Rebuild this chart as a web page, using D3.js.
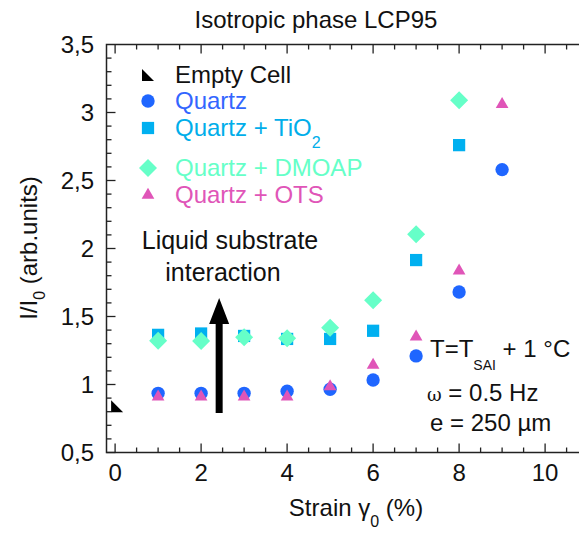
<!DOCTYPE html>
<html><head><meta charset="utf-8">
<script src="https://cdn.jsdelivr.net/npm/d3@7"></script>
<style>body{margin:0;background:#fff}svg text{font-family:"Liberation Sans",Arial,sans-serif}</style>
</head><body><svg id="c" width="579" height="534"></svg>
<script>
const strain = [1,2,3,4,5,6,7,8,9];
const emptyCell = [{x:0,y:0.84}];
const quartz = [0.935,0.935,0.935,0.95,0.965,1.033,1.21,1.68,2.58];
const quartzTiO2 = [1.365,1.375,1.357,1.335,1.335,1.395,1.915,2.76,null];
const quartzDMOAP = [1.322,1.32,1.347,1.34,1.418,1.62,2.104,3.09,null];
const quartzOTS = [0.91,0.91,0.91,0.91,0.985,1.143,1.351,1.835,3.06];
const xTicks = [0,2,4,6,8,10];
const yTicks = [0.5,1,1.5,2,2.5,3,3.5];
const yTickLabels = ["0,5","1","1,5","2","2,5","3","3,5"];

const svg = d3.select("#c");
const x = d3.scaleLinear().domain([-0.2,10.8]).range([106.5,579.5]);
const y = d3.scaleLinear().domain([0.5,3.5]).range([452.5,44.5]);
const C = {q:"#1f66ff", t:"#00b0f0", d:"#66ffc8", o:"#e055b8"};
const TC = {q:"#3366ff", t:"#00aeea", d:"#66ffc8", o:"#e055b8"};
const FS = 24;

// frame
const g = svg.append("g");
g.append("path").attr("d",`M${x(10.8)},${y(3.5)}H${x(-0.2)}V${y(0.5)}H${x(10.8)}`)
 .attr("fill","none").attr("stroke","#222").attr("stroke-width",1.5);
const xMinor = d3.range(0,10.8,0.5);
xMinor.forEach(v=>{
  const major = Math.abs(v/2-Math.round(v/2))<1e-6;
  const L = major?9:5;
  g.append("line").attr("x1",x(v)).attr("x2",x(v)).attr("y1",y(0.5)).attr("y2",y(0.5)-L).attr("stroke","#222").attr("stroke-width",1.3);
  g.append("line").attr("x1",x(v)).attr("x2",x(v)).attr("y1",y(3.5)).attr("y2",y(3.5)+L).attr("stroke","#222").attr("stroke-width",1.3);
});
const yMinor = d3.range(5,35,1).map(d=>d/10);
yMinor.forEach(v=>{
  const major = Math.abs(v*2-Math.round(v*2))<1e-6;
  const L = major?9:5;
  g.append("line").attr("x1",x(-0.2)).attr("x2",x(-0.2)+L).attr("y1",y(v)).attr("y2",y(v)).attr("stroke","#222").attr("stroke-width",1.3);
});
xTicks.forEach(v=>{
  svg.append("text").attr("x",x(v)).attr("y",481).attr("text-anchor","middle").attr("font-size",FS).attr("fill","#111").text(v);
});
yTicks.forEach((v,i)=>{
  svg.append("text").attr("x",94).attr("y",y(v)+8.5).attr("text-anchor","end").attr("font-size",FS).attr("fill","#111").text(yTickLabels[i]);
});
svg.append("text").attr("x",316).attr("y",28).attr("text-anchor","middle").attr("font-size",FS).attr("fill","#111").text("Isotropic phase LCP95");
const xl = svg.append("text").attr("x",356).attr("y",516).attr("text-anchor","middle").attr("font-size",FS).attr("fill","#111");
xl.append("tspan").text("Strain γ");
xl.append("tspan").attr("font-size",16).attr("dy",11).text("0");
xl.append("tspan").attr("dy",-11).text(" (%)");
const yl = svg.append("text").attr("transform","translate(37,248) rotate(-90)").attr("text-anchor","middle").attr("font-size",FS).attr("fill","#111");
yl.append("tspan").text("I/I");
yl.append("tspan").attr("font-size",16).attr("dy",8).text("0");
yl.append("tspan").attr("dy",-8).text(" (arb.units)");

// markers
const diamond = "M0,-9L9,0L0,9L-9,0Z";
const sym = {
  q: ()=>d3.symbol().type(d3.symbolCircle).size(140)(),
  t: ()=>d3.symbol().type(d3.symbolSquare).size(150)(),
  d: ()=>diamond,
  o: ()=>d3.symbol().type(d3.symbolTriangle).size(70)()
};
function series(vals,key){
  svg.append("g").selectAll("path").data(strain.map((s,i)=>({x:s,y:vals[i]})).filter(d=>d.y!=null))
    .join("path").attr("transform",d=>`translate(${x(d.x)},${y(d.y)})`).attr("d",sym[key]()).attr("fill",C[key]);
}
series(quartzTiO2,"t");
series(quartzDMOAP,"d");
series(quartz,"q");
series(quartzOTS,"o");
const tri = "M-6,-6L-6,6L6,6Z";
svg.append("g").selectAll("path").data(emptyCell).join("path")
  .attr("transform",d=>`translate(${x(d.x)+2},${y(d.y)})`).attr("d",tri).attr("fill","#000");

const leg = [
  {k:"e",label:"Empty Cell",y:83},
  {k:"q",label:"Quartz",y:109},
  {k:"t",label:"Quartz + TiO",sub:"2",y:136},
  {k:"d",label:"Quartz + DMOAP",y:176},
  {k:"o",label:"Quartz + OTS",y:203}
];
leg.forEach(l=>{
  const my = l.y-8;
  if(l.k==="e") svg.append("path").attr("transform",`translate(148,${my})`).attr("d",tri).attr("fill","#000");
  else svg.append("path").attr("transform",`translate(148,${my})`).attr("d",sym[l.k]()).attr("fill",C[l.k]);
  const t = svg.append("text").attr("x",175).attr("y",l.y).attr("font-size",FS).attr("fill",l.k==="e"?"#111":TC[l.k]);
  t.append("tspan").text(l.label);
  if(l.sub) t.append("tspan").attr("font-size",16).attr("dy",12).text(l.sub);
});

svg.append("text").attr("x",230).attr("y",249).attr("text-anchor","middle").attr("font-size",25).attr("fill","#111").text("Liquid substrate");
svg.append("text").attr("x",223).attr("y",281).attr("text-anchor","middle").attr("font-size",25).attr("fill","#111").text("interaction");
const ax = x(2.42), ay0 = y(0.79), ay1 = y(1.636);
svg.append("path").attr("d",`M${ax-3.5},${ay0}V${ay1+26}H${ax-10}L${ax},${ay1}L${ax+10},${ay1+26}H${ax+3.5}V${ay0}Z`).attr("fill","#000");

const t1 = svg.append("text").attr("x",430).attr("y",357).attr("font-size",FS).attr("fill","#111");
t1.append("tspan").text("T=T");
t1.append("tspan").attr("font-size",14).attr("dy",13).text("SAI");
t1.append("tspan").attr("dy",-13).text(" + 1 °C");
const t2 = svg.append("text").attr("x",427).attr("y",401).attr("font-size",FS).attr("fill","#111");
t2.append("tspan").attr("font-family","DejaVu Serif").attr("font-size",18).text("ω");
t2.append("tspan").text(" = 0.5 Hz");
svg.append("text").attr("x",430).attr("y",431).attr("font-size",FS).attr("fill","#111").text("e = 250 µm");
</script></body></html>
